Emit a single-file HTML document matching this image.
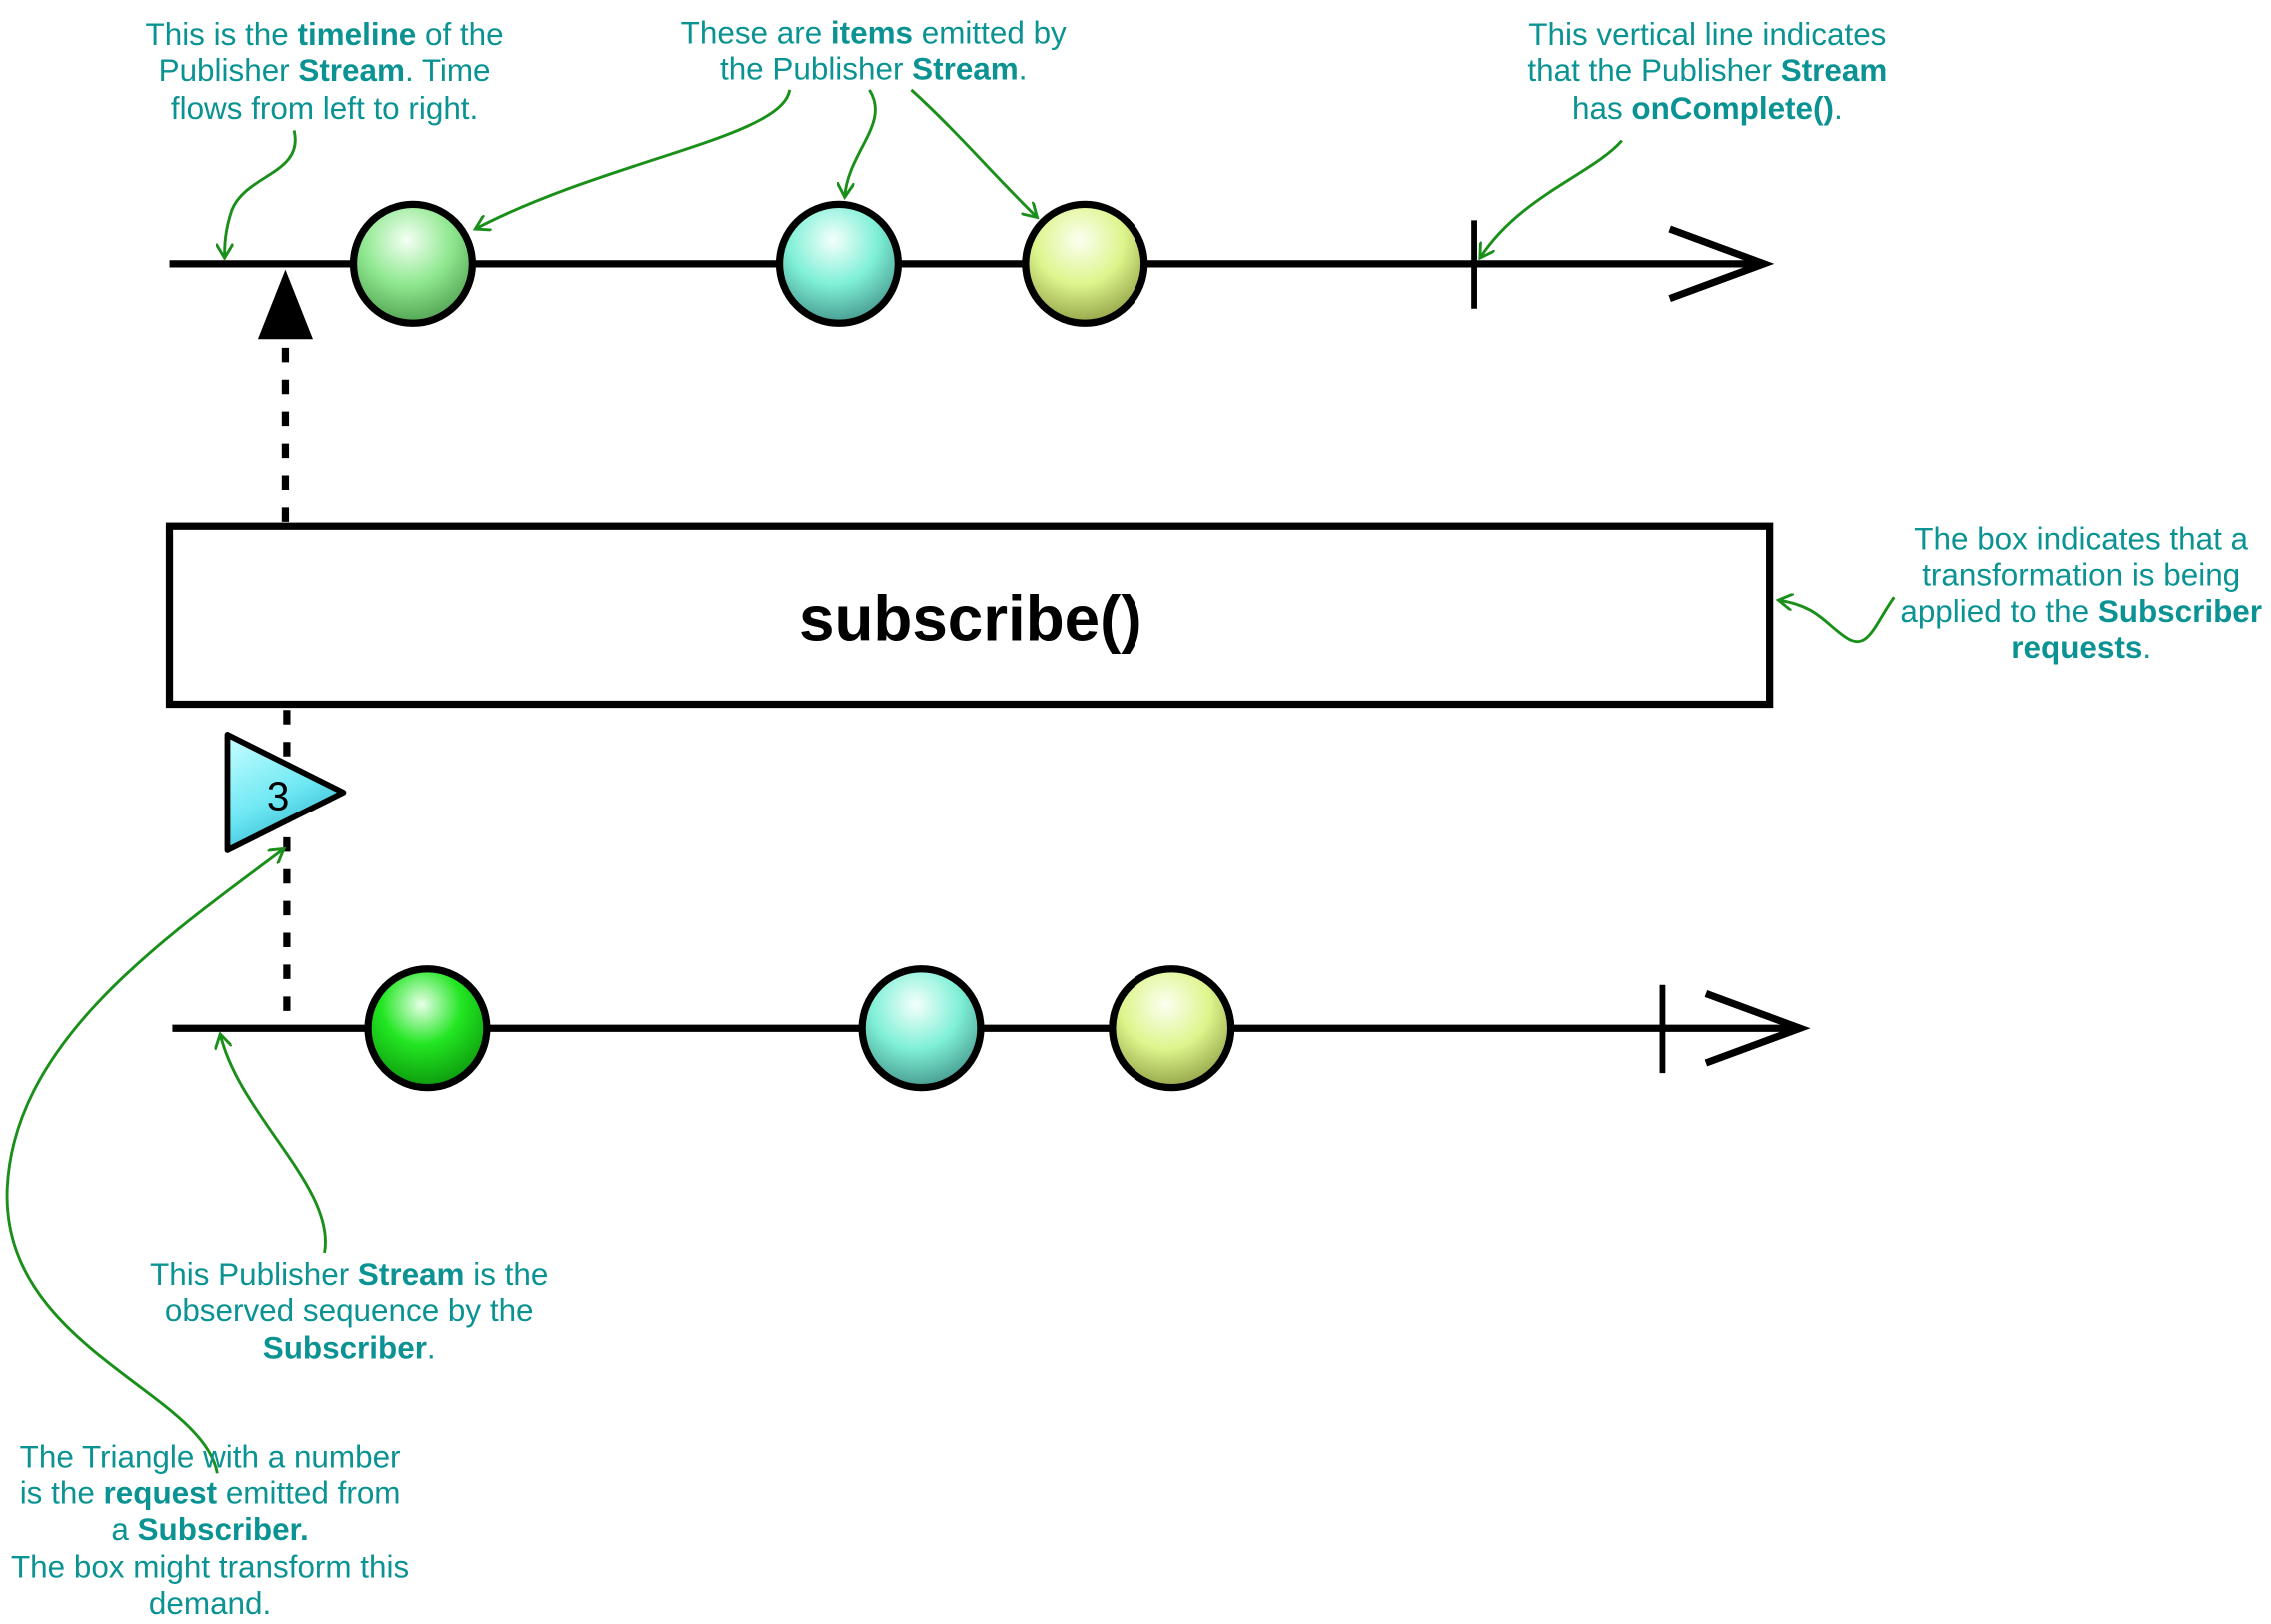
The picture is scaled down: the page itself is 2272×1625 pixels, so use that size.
<!DOCTYPE html>
<html><head><meta charset="utf-8"><style>
html,body{margin:0;padding:0;background:#fff;}
svg{display:block;}
.ann{font-family:"Liberation Sans",sans-serif;font-size:21.7px;fill:#0b9393;text-anchor:middle;}
.ann tspan.b{font-weight:bold;}
.arr{fill:none;stroke:#1a8f1a;stroke-width:2;}
</style></head><body>
<svg id="chart" width="2272" height="1625" viewBox="0 0 1568 1121" preserveAspectRatio="none" xmlns="http://www.w3.org/2000/svg">
<defs>
<radialGradient id="gGreen" cx="0.45" cy="0.3" r="0.75"><stop offset="0" stop-color="#f4fff4"/><stop offset="0.5" stop-color="#8fe88f"/><stop offset="1" stop-color="#4a9a4a"/></radialGradient>
<radialGradient id="gAqua" cx="0.45" cy="0.3" r="0.75"><stop offset="0" stop-color="#f4fffc"/><stop offset="0.5" stop-color="#7ff0d6"/><stop offset="1" stop-color="#3f8f86"/></radialGradient>
<radialGradient id="gYel" cx="0.45" cy="0.3" r="0.75"><stop offset="0" stop-color="#fbfff0"/><stop offset="0.5" stop-color="#ddf58c"/><stop offset="1" stop-color="#8a9a40"/></radialGradient>
<radialGradient id="gBright" cx="0.45" cy="0.3" r="0.75"><stop offset="0" stop-color="#e8ffe8"/><stop offset="0.45" stop-color="#22e622"/><stop offset="1" stop-color="#0a900a"/></radialGradient>
<linearGradient id="gTri" x1="0" y1="0" x2="0.5" y2="1"><stop offset="0" stop-color="#c8ffff"/><stop offset="0.6" stop-color="#6fe8f4"/><stop offset="1" stop-color="#30b8d0"/></linearGradient>
<marker id="ah" markerWidth="12" markerHeight="12" refX="10" refY="6" orient="auto" markerUnits="userSpaceOnUse"><path d="M0,0 L10,6 L0,12" fill="none" stroke="#1a8f1a" stroke-width="2"/></marker>
</defs>

<g>
<line x1="117" y1="182" x2="1216" y2="182" stroke="#000" stroke-width="5"/>
<polyline points="1153,158 1218,182 1153,206" fill="none" stroke="#000" stroke-width="5"/>
<line x1="1018" y1="152" x2="1018" y2="213" stroke="#000" stroke-width="4"/>
</g>
<polygon points="178,234 197,186 216,234" fill="#000"/>
<line x1="197" y1="240" x2="197" y2="360" stroke="#000" stroke-width="5" stroke-dasharray="10,12"/>

<g id="topMarbles"></g>

<rect x="117" y="363" width="1105" height="123" fill="#fff" stroke="#000" stroke-width="5"/>
<text x="670" y="442" font-family="Liberation Sans,sans-serif" font-size="44" font-weight="bold" text-anchor="middle">subscribe()</text>

<line x1="198" y1="490" x2="198" y2="708" stroke="#000" stroke-width="5" stroke-dasharray="10,12"/>
<polygon points="157,507 237,547 157,587" fill="url(#gTri)" stroke="#000" stroke-width="4" stroke-linejoin="round"/>
<text x="192" y="559" font-family="Liberation Sans,sans-serif" font-size="28" text-anchor="middle">3</text>

<g>
<line x1="119" y1="710" x2="1240" y2="710" stroke="#000" stroke-width="5"/>
<polyline points="1178,686 1243,710 1178,734" fill="none" stroke="#000" stroke-width="5"/>
<line x1="1148" y1="680" x2="1148" y2="741" stroke="#000" stroke-width="4"/>
</g>
<g id="botMarbles"></g>

<path class="arr" marker-end="url(#ah)" d="M203,90 C210,120 170,120 160,145 C155,160 155,170 155,178"/>
<path class="arr" marker-end="url(#ah)" d="M545,62 C540,95 420,110 328,158"/>
<path class="arr" marker-end="url(#ah)" d="M600,62 C615,85 585,105 583,136"/>
<path class="arr" marker-end="url(#ah)" d="M629,62 C660,90 690,125 716,150"/>
<path class="arr" marker-end="url(#ah)" d="M1120,97 C1100,120 1050,135 1022,178"/>
<path class="arr" marker-end="url(#ah)" d="M1308,412 C1295,430 1290,450 1275,440 C1260,430 1255,418 1228,414"/>
<path class="arr" marker-end="url(#ah)" d="M224,865 C232,820 165,770 152,714"/>
<path class="arr" marker-end="url(#ah)" d="M150,1017 C140,960 0,930 5,820 C10,720 110,650 196,586"/>

<text class="ann"><tspan x="224" y="31">This is the <tspan class="b">timeline</tspan> of the</tspan><tspan x="224" y="56">Publisher <tspan class="b">Stream</tspan>. Time</tspan><tspan x="224" y="82">flows from left to right.</tspan></text>
<text class="ann"><tspan x="603" y="30">These are <tspan class="b">items</tspan> emitted by</tspan><tspan x="603" y="55">the Publisher <tspan class="b">Stream</tspan>.</tspan></text>
<text class="ann"><tspan x="1179" y="31">This vertical line indicates</tspan><tspan x="1179" y="56">that the Publisher <tspan class="b">Stream</tspan></tspan><tspan x="1179" y="82">has <tspan class="b">onComplete()</tspan>.</tspan></text>
<text class="ann"><tspan x="1437" y="379">The box indicates that a</tspan><tspan x="1437" y="404">transformation is being</tspan><tspan x="1437" y="429">applied to the <tspan class="b">Subscriber</tspan></tspan><tspan x="1437" y="454"><tspan class="b">requests</tspan>.</tspan></text>
<text class="ann"><tspan x="241" y="887">This Publisher <tspan class="b">Stream</tspan> is the</tspan><tspan x="241" y="912">observed sequence by the</tspan><tspan x="241" y="938"><tspan class="b">Subscriber</tspan>.</tspan></text>
<text class="ann"><tspan x="145" y="1013">The Triangle with a number</tspan><tspan x="145" y="1038">is the <tspan class="b">request</tspan> emitted from</tspan><tspan x="145" y="1063">a <tspan class="b">Subscriber.</tspan></tspan><tspan x="145" y="1089">The box might transform this</tspan><tspan x="145" y="1114">demand.</tspan></text>
</svg>
<script>
const topTimes = [285, 579, 749];
const topFills = ['url(#gGreen)', 'url(#gAqua)', 'url(#gYel)'];
const botTimes = [295, 636, 809];
const botFills = ['url(#gBright)', 'url(#gAqua)', 'url(#gYel)'];
const NS = 'http://www.w3.org/2000/svg';
function draw(gid, times, fills, y, prefix){
  const g = document.getElementById(gid);
  times.forEach((t, i) => {
    const c = document.createElementNS(NS, 'circle');
    c.setAttribute('cx', t); c.setAttribute('cy', y); c.setAttribute('r', 41);
    c.setAttribute('fill', fills[i]); c.setAttribute('stroke', '#000'); c.setAttribute('stroke-width', 5);
    
    
    g.appendChild(c);
  });
}
draw('topMarbles', topTimes, topFills, 182, 'publisher');
draw('botMarbles', botTimes, botFills, 710, 'subscriber');
</script>
</body></html>
